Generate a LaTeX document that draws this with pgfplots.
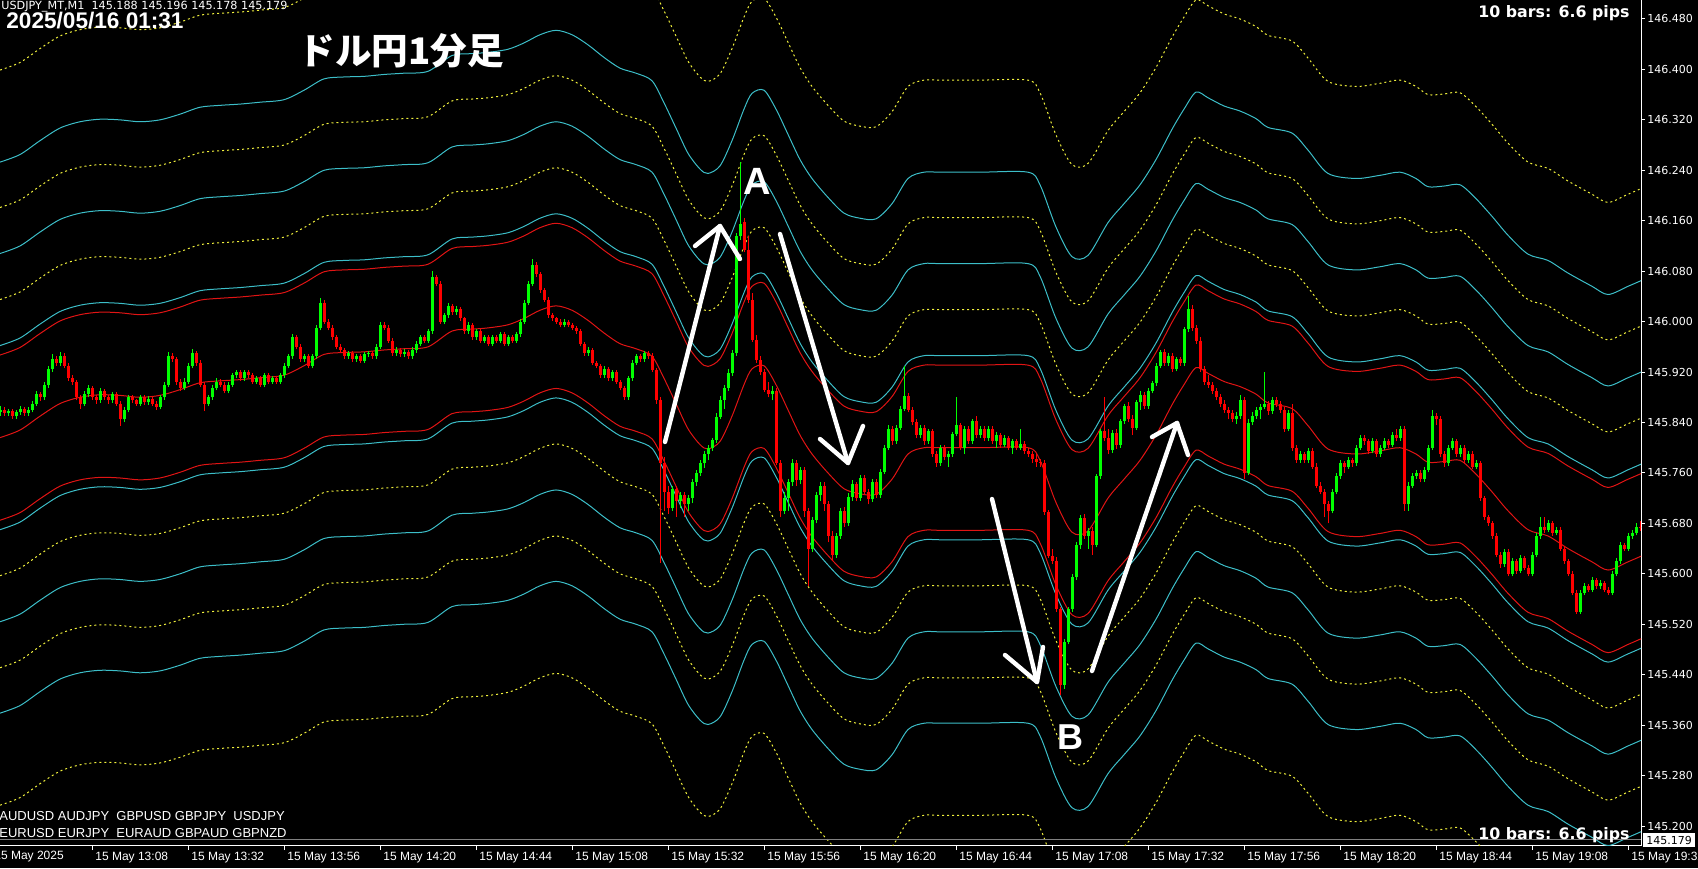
\documentclass[border=0pt]{standalone}
\usepackage{pgfplots}
\pgfplotsset{compat=1.18}
\usepackage{pgfplotstable}
\usepackage{fontspec}
\setmainfont{Liberation Sans}
\newfontfamily\dejavu{DejaVu Sans}
\newfontfamily\cjk{Noto Sans CJK JP}
\newcommand\fs[1]{\fontsize{#1}{#1}\selectfont}
\definecolor{mtgreen}{RGB}{0,255,0}
\definecolor{mtred}{RGB}{255,0,0}
\definecolor{macol}{RGB}{225,20,20}
\definecolor{mtcyan}{RGB}{60,190,200}
\definecolor{mtyellow}{RGB}{240,240,60}

\pgfplotstableread{
m ma
45 145.816
50 145.828
55 145.850
60 145.870
65 145.880
70 145.884
75 145.883
80 145.880
85 145.883
90 145.892
95 145.903
100 145.906
105 145.908
110 145.911
116 145.915
121 145.930
126 145.948
131 145.951
136 145.952
141 145.955
146 145.957
152 145.960
158 145.985
163 145.988
167 145.990
172 145.995
176 146.005
180 146.018
184 146.025
188 146.018
192 146.002
196 145.982
200 145.965
204 145.957
208 145.945
211 145.910
214 145.870
217 145.830
220 145.805
222 145.798
225 145.810
228 145.850
231 145.900
233 145.925
236 145.930
239 145.900
242 145.860
245 145.820
248 145.790
252 145.760
256 145.735
260 145.727
264 145.726
268 145.750
272 145.790
276 145.800
280 145.800
290 145.800
302 145.800
305 145.780
309 145.713
313 145.666
317 145.668
322 145.720
326 145.750
330 145.780
334 145.820
338 145.868
341 145.900
344 145.927
347 145.918
351 145.905
355 145.897
359 145.885
362 145.871
368 145.862
372 145.835
377 145.798
384 145.790
390 145.795
395 145.800
399 145.790
402 145.777
406 145.778
410 145.780
414 145.758
418 145.730
422 145.700
427 145.670
432 145.660
437 145.640
443 145.619
447 145.606
452 145.619
456 145.630
}\ma

\pgfplotstableread{
t o h l c
45 145.856 145.866 145.850 145.860
46 145.860 145.864 145.850 145.855
47 145.855 145.862 145.851 145.858
48 145.858 145.861 145.846 145.850
49 145.850 145.860 145.846 145.856
50 145.856 145.866 145.852 145.862
51 145.862 145.865 145.851 145.855
52 145.855 145.864 145.850 145.860
53 145.860 145.874 145.856 145.870
54 145.870 145.890 145.866 145.885
55 145.885 145.889 145.874 145.880
56 145.880 145.905 145.876 145.900
57 145.900 145.930 145.895 145.925
58 145.925 145.948 145.920 145.940
59 145.940 145.945 145.930 145.935
60 145.935 145.952 145.930 145.945
61 145.945 145.950 145.926 145.930
62 145.930 145.934 145.906 145.910
63 145.910 145.915 145.900 145.905
64 145.905 145.908 145.875 145.880
65 145.880 145.884 145.862 145.870
66 145.870 145.890 145.866 145.885
67 145.885 145.900 145.880 145.895
68 145.895 145.898 145.876 145.880
69 145.880 145.884 145.870 145.875
70 145.875 145.894 145.871 145.890
71 145.890 145.893 145.876 145.880
72 145.880 145.884 145.870 145.875
73 145.875 145.889 145.871 145.885
74 145.885 145.888 145.866 145.870
75 145.870 145.874 145.835 145.845
76 145.845 145.865 145.840 145.860
77 145.860 145.884 145.856 145.880
78 145.880 145.884 145.871 145.875
79 145.875 145.878 145.866 145.870
80 145.870 145.884 145.866 145.880
81 145.880 145.883 145.868 145.872
82 145.872 145.882 145.868 145.878
83 145.878 145.881 145.866 145.870
84 145.870 145.874 145.860 145.865
85 145.865 145.884 145.861 145.880
86 145.880 145.905 145.876 145.900
87 145.900 145.952 145.896 145.945
88 145.945 145.950 145.936 145.940
89 145.940 145.944 145.900 145.905
90 145.905 145.909 145.890 145.895
91 145.895 145.910 145.891 145.905
92 145.905 145.934 145.901 145.930
93 145.930 145.957 145.926 145.950
94 145.950 145.954 145.930 145.935
95 145.935 145.939 145.896 145.900
96 145.900 145.904 145.858 145.870
97 145.870 145.884 145.866 145.880
98 145.880 145.899 145.876 145.895
99 145.895 145.910 145.891 145.905
100 145.905 145.909 145.896 145.900
101 145.900 145.904 145.886 145.890
102 145.890 145.904 145.886 145.900
103 145.900 145.919 145.896 145.915
104 145.915 145.924 145.911 145.920
105 145.920 145.924 145.906 145.910
106 145.910 145.924 145.906 145.920
107 145.920 145.923 145.911 145.915
108 145.915 145.918 145.901 145.905
109 145.905 145.914 145.901 145.910
110 145.910 145.913 145.896 145.900
111 145.900 145.919 145.896 145.915
112 145.915 145.918 145.901 145.905
113 145.905 145.914 145.901 145.910
114 145.910 145.913 145.901 145.905
115 145.905 145.919 145.901 145.915
116 145.915 145.934 145.911 145.930
117 145.930 145.949 145.926 145.945
118 145.945 145.980 145.941 145.975
119 145.975 145.978 145.956 145.960
120 145.960 145.964 145.936 145.940
121 145.940 145.949 145.936 145.945
122 145.945 145.948 145.926 145.930
123 145.930 145.949 145.926 145.945
124 145.945 145.994 145.941 145.990
125 145.990 146.038 145.986 146.030
126 146.030 146.034 145.996 146.000
127 146.000 146.004 145.986 145.990
128 145.990 145.994 145.971 145.975
129 145.975 145.979 145.956 145.960
130 145.960 145.964 145.951 145.955
131 145.955 145.958 145.941 145.945
132 145.945 145.954 145.941 145.950
133 145.950 145.953 145.936 145.940
134 145.940 145.949 145.936 145.945
135 145.945 145.948 145.934 145.938
136 145.938 145.952 145.934 145.948
137 145.948 145.954 145.944 145.950
138 145.950 145.953 145.941 145.945
139 145.945 145.964 145.941 145.960
140 145.960 146.000 145.956 145.995
141 145.995 145.999 145.986 145.990
142 145.990 145.994 145.966 145.970
143 145.970 145.974 145.946 145.950
144 145.950 145.959 145.946 145.955
145 145.955 145.958 145.944 145.948
146 145.948 145.956 145.944 145.952
147 145.952 145.955 145.941 145.945
148 145.945 145.959 145.941 145.955
149 145.955 145.969 145.951 145.965
150 145.965 145.979 145.961 145.975
151 145.975 145.978 145.966 145.970
152 145.970 145.989 145.966 145.985
153 145.985 146.080 145.981 146.070
154 146.070 146.074 146.056 146.060
155 146.060 146.064 145.996 146.000
156 146.000 146.014 145.996 146.010
157 146.010 146.029 146.006 146.025
158 146.025 146.028 146.011 146.015
159 146.015 146.024 146.011 146.020
160 146.020 146.023 146.001 146.005
161 146.005 146.008 145.981 145.985
162 145.985 145.999 145.981 145.995
163 145.995 145.998 145.971 145.975
164 145.975 145.989 145.971 145.985
165 145.985 145.988 145.966 145.970
166 145.970 145.979 145.966 145.975
167 145.975 145.978 145.961 145.965
168 145.965 145.979 145.961 145.975
169 145.975 145.978 145.966 145.970
170 145.970 145.984 145.966 145.980
171 145.980 145.983 145.961 145.965
172 145.965 145.979 145.961 145.975
173 145.975 145.978 145.966 145.970
174 145.970 145.984 145.966 145.980
175 145.980 146.004 145.976 146.000
176 146.000 146.034 145.996 146.030
177 146.030 146.064 146.026 146.060
178 146.060 146.100 146.056 146.090
179 146.090 146.094 146.071 146.075
180 146.075 146.079 146.046 146.050
181 146.050 146.054 146.031 146.035
182 146.035 146.039 146.006 146.010
183 146.010 146.014 146.001 146.005
184 146.005 146.008 145.996 146.000
185 146.000 146.004 145.991 145.995
186 145.995 146.004 145.991 146.000
187 146.000 146.003 145.991 145.995
188 145.995 145.998 145.986 145.990
189 145.990 145.993 145.981 145.985
190 145.985 145.988 145.961 145.965
191 145.965 145.968 145.946 145.950
192 145.950 145.959 145.946 145.955
193 145.955 145.958 145.931 145.935
194 145.935 145.938 145.926 145.930
195 145.930 145.933 145.911 145.915
196 145.915 145.929 145.911 145.925
197 145.925 145.928 145.906 145.910
198 145.910 145.924 145.906 145.920
199 145.920 145.923 145.901 145.905
200 145.905 145.908 145.891 145.895
201 145.895 145.898 145.876 145.880
202 145.880 145.914 145.876 145.910
203 145.910 145.939 145.906 145.935
204 145.935 145.949 145.931 145.945
205 145.945 145.948 145.936 145.940
206 145.940 145.954 145.936 145.950
207 145.950 145.953 145.941 145.945
208 145.945 145.950 145.920 145.923
209 145.923 145.927 145.870 145.876
210 145.876 145.880 145.617 145.775
211 145.775 145.785 145.700 145.730
212 145.730 145.740 145.695 145.705
213 145.705 145.740 145.700 145.735
214 145.735 145.740 145.690 145.715
215 145.715 145.730 145.705 145.725
216 145.725 145.730 145.690 145.710
217 145.710 145.725 145.700 145.720
218 145.720 145.750 145.712 145.745
219 145.745 145.765 145.740 145.760
220 145.760 145.780 145.755 145.775
221 145.775 145.795 145.768 145.790
222 145.790 145.805 145.780 145.800
223 145.800 145.815 145.795 145.812
224 145.812 145.855 145.808 145.849
225 145.849 145.882 145.845 145.876
226 145.876 145.900 145.862 145.895
227 145.895 145.925 145.890 145.918
228 145.918 145.955 145.914 145.950
229 145.950 146.140 145.946 146.135
230 146.135 146.253 146.130 146.155
231 146.158 146.165 146.110 146.114
232 146.114 146.136 146.030 146.034
233 146.034 146.046 145.968 145.971
234 145.971 145.978 145.935 145.939
235 145.939 145.946 145.915 145.920
236 145.920 145.925 145.888 145.892
237 145.892 145.905 145.880 145.885
238 145.885 145.898 145.875 145.890
239 145.890 145.895 145.772 145.775
240 145.775 145.780 145.690 145.700
241 145.700 145.730 145.695 145.720
242 145.720 145.750 145.700 145.745
243 145.745 145.782 145.740 145.775
244 145.775 145.780 145.740 145.748
245 145.748 145.770 145.742 145.765
246 145.765 145.770 145.690 145.700
247 145.700 145.705 145.580 145.640
248 145.640 145.690 145.635 145.685
249 145.685 145.730 145.680 145.725
250 145.725 145.745 145.715 145.740
251 145.740 145.745 145.700 145.710
252 145.710 145.715 145.650 145.660
253 145.660 145.668 145.620 145.630
254 145.630 145.665 145.625 145.660
255 145.660 145.705 145.655 145.700
256 145.700 145.706 145.675 145.680
257 145.680 145.728 145.676 145.722
258 145.722 145.748 145.716 145.742
259 145.742 145.746 145.715 145.720
260 145.720 145.756 145.716 145.752
261 145.752 145.756 145.726 145.730
262 145.730 145.735 145.710 145.718
263 145.718 145.750 145.714 145.746
264 145.746 145.750 145.720 145.725
265 145.725 145.766 145.721 145.762
266 145.762 145.805 145.758 145.800
267 145.800 145.836 145.796 145.830
268 145.830 145.834 145.805 145.810
269 145.810 145.836 145.806 145.832
270 145.832 145.866 145.828 145.862
271 145.862 145.930 145.858 145.882
272 145.882 145.886 145.856 145.860
273 145.860 145.864 145.836 145.840
274 145.840 145.845 145.815 145.820
275 145.820 145.836 145.816 145.832
276 145.832 145.836 145.805 145.810
277 145.810 145.830 145.806 145.826
278 145.826 145.830 145.786 145.790
279 145.790 145.795 145.770 145.775
280 145.775 145.805 145.771 145.800
281 145.800 145.804 145.780 145.785
282 145.785 145.795 145.770 145.790
283 145.790 145.825 145.786 145.822
284 145.822 145.880 145.818 145.836
285 145.836 145.840 145.796 145.800
286 145.800 145.835 145.790 145.830
287 145.830 145.834 145.806 145.810
288 145.810 145.845 145.806 145.842
289 145.842 145.850 145.815 145.820
290 145.820 145.835 145.816 145.830
291 145.830 145.834 145.810 145.815
292 145.815 145.835 145.811 145.830
293 145.830 145.834 145.806 145.810
294 145.810 145.825 145.800 145.820
295 145.820 145.824 145.800 145.805
296 145.805 145.820 145.801 145.815
297 145.815 145.819 145.796 145.800
298 145.800 145.814 145.790 145.810
299 145.810 145.814 145.796 145.800
300 145.800 145.830 145.796 145.806
301 145.806 145.810 145.790 145.795
302 145.795 145.800 145.786 145.790
303 145.790 145.795 145.776 145.782
304 145.782 145.790 145.770 145.778
305 145.778 145.782 145.770 145.775
306 145.775 145.780 145.694 145.698
307 145.698 145.702 145.625 145.629
308 145.629 145.640 145.615 145.621
309 145.621 145.626 145.540 145.544
310 145.544 145.548 145.407 145.424
311 145.424 145.496 145.418 145.492
312 145.492 145.548 145.488 145.544
313 145.544 145.599 145.540 145.595
314 145.595 145.650 145.590 145.646
315 145.646 145.693 145.640 145.689
316 145.689 145.695 145.655 145.660
317 145.660 145.672 145.640 145.668
318 145.668 145.675 145.630 145.646
319 145.646 145.758 145.642 145.755
320 145.755 145.830 145.750 145.826
321 145.826 145.880 145.810 145.815
322 145.815 145.830 145.790 145.796
323 145.796 145.828 145.792 145.824
324 145.824 145.830 145.798 145.804
325 145.804 145.845 145.800 145.842
326 145.842 145.870 145.838 145.866
327 145.866 145.872 145.840 145.846
328 145.846 145.852 145.820 145.832
329 145.832 145.876 145.828 145.872
330 145.872 145.890 145.860 145.884
331 145.884 145.888 145.862 145.866
332 145.866 145.895 145.862 145.890
333 145.890 145.906 145.886 145.902
334 145.902 145.935 145.898 145.930
335 145.930 145.955 145.926 145.952
336 145.952 145.956 145.930 145.934
337 145.934 145.950 145.930 145.946
338 145.946 145.950 145.920 145.925
339 145.925 145.944 145.921 145.940
340 145.940 145.944 145.930 145.934
341 145.934 145.992 145.930 145.988
342 145.988 146.040 145.984 146.020
343 146.020 146.026 145.985 145.990
344 145.990 145.995 145.965 145.970
345 145.970 145.975 145.920 145.925
346 145.925 145.930 145.900 145.905
347 145.905 145.915 145.895 145.900
348 145.900 145.905 145.885 145.890
349 145.890 145.895 145.875 145.880
350 145.880 145.885 145.865 145.870
351 145.870 145.876 145.855 145.860
352 145.860 145.864 145.845 145.855
353 145.855 145.860 145.840 145.845
354 145.845 145.856 145.838 145.850
355 145.850 145.884 145.846 145.875
356 145.875 145.880 145.750 145.760
357 145.760 145.845 145.756 145.840
358 145.840 145.856 145.836 145.850
359 145.850 145.864 145.846 145.860
360 145.860 145.869 145.845 145.865
361 145.865 145.920 145.861 145.870
362 145.870 145.874 145.852 145.858
363 145.858 145.880 145.854 145.875
364 145.875 145.880 145.865 145.870
365 145.870 145.874 145.855 145.860
366 145.860 145.864 145.825 145.830
367 145.830 145.860 145.826 145.855
368 145.855 145.870 145.795 145.800
369 145.800 145.805 145.776 145.780
370 145.780 145.795 145.776 145.790
371 145.790 145.794 145.776 145.780
372 145.780 145.800 145.776 145.795
373 145.795 145.799 145.766 145.770
374 145.770 145.775 145.736 145.740
375 145.740 145.745 145.726 145.730
376 145.730 145.735 145.690 145.710
377 145.710 145.715 145.680 145.700
378 145.700 145.735 145.696 145.730
379 145.730 145.760 145.726 145.755
380 145.755 145.780 145.750 145.775
381 145.775 145.779 145.760 145.770
382 145.770 145.785 145.766 145.780
383 145.780 145.784 145.770 145.775
384 145.775 145.805 145.771 145.800
385 145.800 145.820 145.796 145.815
386 145.815 145.820 145.805 145.810
387 145.810 145.814 145.790 145.795
388 145.795 145.815 145.791 145.810
389 145.810 145.814 145.786 145.790
390 145.790 145.805 145.786 145.800
391 145.800 145.815 145.796 145.810
392 145.810 145.814 145.800 145.805
393 145.805 145.825 145.801 145.820
394 145.820 145.830 145.810 145.815
395 145.815 145.835 145.811 145.830
396 145.830 145.834 145.700 145.710
397 145.710 145.745 145.700 145.740
398 145.740 145.760 145.736 145.755
399 145.755 145.765 145.750 145.760
400 145.760 145.764 145.745 145.750
401 145.750 145.770 145.746 145.765
402 145.765 145.805 145.761 145.800
403 145.800 145.860 145.796 145.850
404 145.850 145.855 145.836 145.845
405 145.845 145.850 145.785 145.790
406 145.790 145.795 145.770 145.775
407 145.775 145.805 145.771 145.800
408 145.800 145.815 145.796 145.810
409 145.810 145.814 145.786 145.790
410 145.790 145.805 145.786 145.800
411 145.800 145.804 145.776 145.780
412 145.780 145.795 145.776 145.790
413 145.790 145.794 145.766 145.770
414 145.770 145.780 145.766 145.775
415 145.775 145.779 145.716 145.720
416 145.720 145.724 145.686 145.690
417 145.690 145.694 145.676 145.680
418 145.680 145.684 145.656 145.660
419 145.660 145.664 145.626 145.630
420 145.630 145.634 145.610 145.615
421 145.615 145.640 145.611 145.635
422 145.635 145.639 145.596 145.600
423 145.600 145.625 145.596 145.620
424 145.620 145.624 145.600 145.605
425 145.605 145.630 145.601 145.625
426 145.625 145.629 145.606 145.610
427 145.610 145.614 145.596 145.600
428 145.600 145.635 145.596 145.630
429 145.630 145.665 145.626 145.660
430 145.660 145.690 145.656 145.675
431 145.675 145.690 145.665 145.670
432 145.670 145.685 145.666 145.680
433 145.680 145.684 145.660 145.665
434 145.665 145.675 145.661 145.670
435 145.670 145.674 145.636 145.640
436 145.640 145.644 145.616 145.620
437 145.620 145.624 145.596 145.600
438 145.600 145.604 145.566 145.570
439 145.570 145.574 145.536 145.540
440 145.540 145.575 145.536 145.570
441 145.570 145.585 145.566 145.580
442 145.580 145.584 145.571 145.575
443 145.575 145.595 145.571 145.590
444 145.590 145.594 145.576 145.580
445 145.580 145.590 145.576 145.585
446 145.585 145.589 145.571 145.575
447 145.575 145.579 145.566 145.570
448 145.570 145.605 145.566 145.600
449 145.600 145.625 145.596 145.620
450 145.620 145.650 145.616 145.645
451 145.645 145.649 145.636 145.640
452 145.640 145.665 145.636 145.660
453 145.660 145.669 145.656 145.665
454 145.665 145.680 145.661 145.675
455 145.675 145.684 145.668 145.672
}\candles

\begin{document}
\begin{tikzpicture}
\useasboundingbox (0,0) rectangle (849pt,434pt);
\fill[black] (0,0) rectangle (849pt,434pt);
\begin{axis}[
  at={(0pt,11pt)}, anchor=south west,
  scale only axis, width=820.5pt, height=423pt,
  xmin=45, xmax=455.25, ymin=145.1683, ymax=146.5101,
  axis x line*=bottom, axis y line*=right,
  axis line style={draw=white, line width=0.5pt, -},
  tick align=outside,
  tick style={white, line width=0.5pt},
  major tick length=2pt,
  xtick={68,92,116,140,164,188,212,236,260,284,308,332,356,380,404,428,452},
  xticklabels={15 May 13:08,15 May 13:32,15 May 13:56,15 May 14:20,15 May 14:44,15 May 15:08,15 May 15:32,15 May 15:56,15 May 16:20,15 May 16:44,15 May 17:08,15 May 17:32,15 May 17:56,15 May 18:20,15 May 18:44,15 May 19:08,15 May 19:32},
  ytick={145.2,145.28,145.36,145.44,145.52,145.6,145.68,145.76,145.84,145.92,146.0,146.08,146.16,146.24,146.32,146.4,146.48},
  yticklabels={145.200,145.280,145.360,145.440,145.520,145.600,145.680,145.760,145.840,145.920,146.000,146.080,146.160,146.240,146.320,146.400,146.480},
  xticklabel style={anchor=north west, text=white, font=\fs{6pt}, inner sep=0pt, xshift=1.5pt, yshift=-1pt},
  yticklabel style={anchor=west, text=white, font=\dejavu\fs{5.5pt}, inner sep=0pt, xshift=1pt},
  minor tick num=0,
]
\pgfplotsset{cy/.style={mtcyan, line width=0.5pt, smooth}, ye/.style={mtyellow, line width=0.5pt, smooth, dash pattern=on 1pt off 1.5pt}, rd/.style={macol, line width=0.5pt, smooth}}
\addplot[ye] table[x=m, y expr=\thisrow{ma}+0.583]{\ma};
\addplot[cy] table[x=m, y expr=\thisrow{ma}+0.437]{\ma};
\addplot[ye] table[x=m, y expr=\thisrow{ma}+0.365]{\ma};
\addplot[cy] table[x=m, y expr=\thisrow{ma}+0.292]{\ma};
\addplot[ye] table[x=m, y expr=\thisrow{ma}+0.219]{\ma};
\addplot[cy] table[x=m, y expr=\thisrow{ma}+0.146]{\ma};
\addplot[rd] table[x=m, y expr=\thisrow{ma}+0.131]{\ma};
\addplot[rd] table[x=m, y=ma]{\ma};
\addplot[rd] table[x=m, y expr=\thisrow{ma}-0.131]{\ma};
\addplot[cy] table[x=m, y expr=\thisrow{ma}-0.146]{\ma};
\addplot[ye] table[x=m, y expr=\thisrow{ma}-0.219]{\ma};
\addplot[cy] table[x=m, y expr=\thisrow{ma}-0.292]{\ma};
\addplot[ye] table[x=m, y expr=\thisrow{ma}-0.365]{\ma};
\addplot[cy] table[x=m, y expr=\thisrow{ma}-0.437]{\ma};
\addplot[ye] table[x=m, y expr=\thisrow{ma}-0.583]{\ma};
\addplot[gray, line width=0.5pt] coordinates {(45,145.179) (455.25,145.179)};
% wicks
\addplot[mtgreen, line width=0.5pt, mark=none, -, restrict expr to domain={\thisrow{c}-\thisrow{o}}{0:1},
  quiver={u=0, v={\thisrow{h}-\thisrow{l}}}] table[x=t, y=l]{\candles};
\addplot[mtred, line width=0.5pt, mark=none, -, restrict expr to domain={\thisrow{c}-\thisrow{o}}{-1:-0.0001},
  quiver={u=0, v={\thisrow{h}-\thisrow{l}}}] table[x=t, y=l]{\candles};
% bodies
\addplot[mtgreen, line width=1.5pt, mark=none, -, restrict expr to domain={\thisrow{c}-\thisrow{o}}{0:1},
  quiver={u=0, v={\thisrow{c}-\thisrow{o}}}] table[x=t, y=o]{\candles};
\addplot[mtred, line width=1.5pt, mark=none, -, restrict expr to domain={\thisrow{c}-\thisrow{o}}{-1:-0.0001},
  quiver={u=0, v={\thisrow{c}-\thisrow{o}}}] table[x=t, y=o]{\candles};
\end{axis}
\begin{scope}[shift={(0pt,434pt)}, x=0.5pt, y=-0.5pt]
  \node[anchor=west, text=white, inner sep=0pt, font=\dejavu\fs{5.6pt}] at (1,7) {USDJPY\_MT,M1\ \ 145.188 145.196 145.178 145.179};
  \node[anchor=west, text=white, inner sep=0pt, font=\bfseries\fs{11.3pt}] at (6,21) {2025/05/16 01:31};
  \node[anchor=west, text=white, inner sep=0pt, font=\cjk\bfseries\fs{18.3pt}] at (298,51) {ドル円1分足};
  \node[anchor=east, text=white, inner sep=0pt, font=\dejavu\bfseries\fs{7.9pt}] at (1630,13) {10 bars: 6.6 pips};
  \node[anchor=east, text=white, inner sep=0pt, font=\dejavu\bfseries\fs{7.9pt}] at (1630,835) {10 bars: 6.6 pips};
  \node[anchor=west, text=white, inner sep=0pt, font=\fs{6.5pt}] at (-1,816) {AUDUSD AUDJPY\ \ GBPUSD GBPJPY\ \ USDJPY};
  \node[anchor=west, text=white, inner sep=0pt, font=\fs{6.5pt}] at (-1,833) {EURUSD EURJPY\ \ EURAUD GBPAUD GBPNZD};
  \node[anchor=north west, text=white, inner sep=0pt, font=\fs{6pt}] at (-6,851) {15 May 2025};
  \node[anchor=west, fill=white, text=black, inner xsep=1.5pt, inner ysep=1.2pt, font=\dejavu\fs{5.5pt}] at (1643,840) {145.179};
  \node[text=white, font=\bfseries\fs{19pt}] at (757,181) {A};
  \node[text=white, font=\bfseries\fs{18pt}] at (1070,737) {B};
  \begin{scope}[white, line width=2.2pt, line cap=round, line join=round]
    \draw (665,442) -- (720,226);
    \draw (695,246) -- (720,226) -- (740,259);
    \draw (780,234) -- (848,463);
    \draw (820,439) -- (848,463) -- (863,426);
    \draw (992,499) -- (1037,682);
    \draw (1005,655) -- (1037,682) -- (1043,647);
    \draw (1092,671) -- (1177,423);
    \draw (1152,437) -- (1177,423) -- (1188,455);
  \end{scope}
\end{scope}
\end{tikzpicture}
\end{document}
